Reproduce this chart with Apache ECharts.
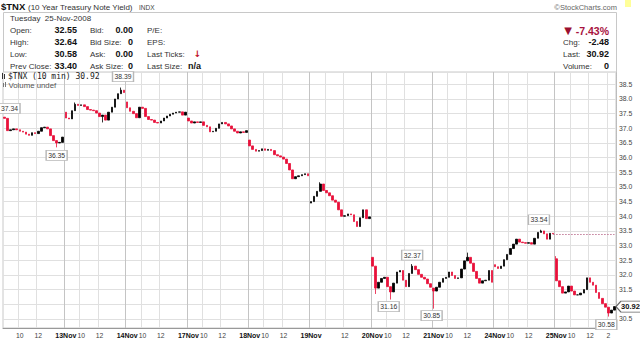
<!DOCTYPE html>
<html><head><meta charset="utf-8">
<script src="https://cdn.jsdelivr.net/npm/echarts@6/dist/echarts.min.js"></script>
<style>html,body{margin:0;padding:0;background:#fff}#c{width:640px;height:342px}</style>
</head><body><div id="c"></div>
<script>
// ---------- DATA ----------
const days = ['12Nov','13Nov','14Nov','17Nov','18Nov','19Nov','20Nov','21Nov','24Nov','25Nov'];
const barTimes = ['08:20','08:40','09:00','09:20','09:40','10:00','10:20','10:40','11:00','11:20',
                  '11:40','12:00','12:20','12:40','13:00','13:20','13:40','14:00','14:20','14:40'];
const dayOpens = [37.38, 37.55, 37.90, 37.35, 36.60, 34.45, 32.60, 31.55, 32.35, 32.55];
const close12Nov = [37.34,36.92,36.95,36.98,36.95,36.90,36.87,36.80,36.76,36.85,36.82,36.90,37.02,37.04,36.98,36.75,36.58,36.50,36.52,36.70];
const close13Nov = [37.35,37.32,37.60,37.82,37.78,37.80,37.74,37.64,37.62,37.60,37.52,37.40,37.45,37.28,37.55,37.72,38.00,38.18,38.30,38.22];
const close14Nov = [37.70,37.58,37.50,37.36,37.72,37.68,37.40,37.30,37.28,37.20,37.18,37.25,37.35,37.42,37.48,37.52,37.55,37.56,37.45,37.55];
const close17Nov = [37.25,37.18,37.22,37.20,37.22,37.10,37.05,36.88,36.90,37.00,37.15,37.20,37.15,37.08,36.98,36.90,36.84,36.88,36.86,36.92];
const close18Nov = [36.40,36.28,36.22,36.24,36.30,36.25,36.28,36.24,36.10,36.06,36.02,35.95,35.80,35.58,35.28,35.35,35.38,35.42,35.45,35.38];
const close19Nov = [34.50,34.68,34.85,35.10,34.88,34.80,34.70,34.55,34.48,34.22,34.00,34.02,34.08,34.05,33.82,33.65,33.95,34.22,33.92,33.98];
const close20Nov = [32.30,31.55,31.75,31.88,31.92,31.60,31.42,31.72,32.10,32.15,31.82,31.60,32.05,32.30,32.18,32.02,31.92,31.86,31.70,31.58];
const close21Nov = [31.45,31.58,31.75,31.88,31.92,32.10,31.98,31.88,31.90,32.20,32.48,32.60,32.40,32.12,31.88,31.72,31.80,31.82,32.15,31.75];
const close24Nov = [32.28,32.22,32.30,32.52,32.70,32.90,33.05,33.22,33.12,33.10,33.08,33.10,33.05,33.25,33.45,33.50,33.40,33.22,33.42,33.40];
const close25Nov = [31.80,31.60,31.38,31.42,31.62,31.45,31.32,31.32,31.38,31.50,31.90,31.75,31.65,31.40,31.20,31.02,30.90,30.70,30.80,30.92];
// [dayIndex, barIndex, value]
const highSpikes = [[1,3,37.88],[1,18,38.39],[5,3,35.16],[6,13,32.37],[7,11,32.76],[8,15,33.54],[9,0,32.64]];
const lowSpikes  = [[0,17,36.35],[1,12,37.20],[6,1,31.35],[6,6,31.16],[7,0,30.85],[9,17,30.58]];
// annotated values [dayIndex, barIndex, value]
const annotations = [[0,0,37.34],[1,18,38.39],[0,17,36.35],[6,13,32.37],[6,6,31.16],[7,0,30.85],[8,15,33.54],[9,17,30.58]];
const prevClose = 33.40;
const lastValue = 30.92;
const yTickLabels = ['30.5','31.5','32.0','32.5','33.0','33.5','34.0','34.5','35.0','35.5','36.0','36.5','37.0','37.5','38.0','38.5'];

// ---------- BUILD ----------
const dayCloses = [close12Nov,close13Nov,close14Nov,close17Nov,close18Nov,close19Nov,close20Nov,close21Nov,close24Nov,close25Nov];
const N = barTimes.length;
const cats = [];
days.forEach(d => barTimes.forEach(t => cats.push(d + ' ' + t)));
const ohlc = [];
let prev = null;
dayCloses.forEach((arr, d) => arr.forEach((c, i) => {
  const o = i === 0 ? dayOpens[d] : prev;
  ohlc.push([o, c, Math.min(o, c), Math.max(o, c)]);
  prev = c;
}));
highSpikes.forEach(([d, i, v]) => { const k = d * N + i; ohlc[k][3] = Math.max(ohlc[k][3], v); });
lowSpikes.forEach(([d, i, v]) => { const k = d * N + i; ohlc[k][2] = Math.min(ohlc[k][2], v); });

// layout (pixel offsets of annotation boxes relative to their point)
const annOffsets = [[5,-10],[2,-11],[0,8],[0,-9],[-2,7],[-2,7],[-2,-10],[-2,8]];

const FONT = 'Liberation Sans, Arial, sans-serif';
const RED = '#e8103a';

const hourIdx = (i) => {
  const d = Math.floor(i / N), b = i % N;
  if (b === 5) return true;
  if (b === 11) return true;
  if (b === 17 && d === days.length - 1) return true;
  return false;
};

const chart = echarts.init(document.getElementById('c'), null, {renderer: 'svg', width: 640, height: 342});

function T(x, y, text, o) {
  o = o || {};
  return {type: 'text', x: x, y: y, silent: true, z: 100,
    style: {text: text, fill: o.fill || '#333', font: (o.weight || 'normal') + ' ' + (o.size || 8) + 'px ' + (o.family || FONT),
      textAlign: o.align || 'left', textVerticalAlign: 'middle'}};
}

const graphics = [
  {type: 'rect', shape: {x: 3.5, y: 12.5, width: 613, height: 60}, style: {fill: 'none', stroke: '#c8c8c8', lineWidth: 1}, silent: true},
  T(1, 6, '$TNX', {weight: 'bold', size: 9.5, fill: '#111'}),
  T(28, 7, '(10 Year Treasury Note Yield)', {size: 8, fill: '#333'}),
  T(139, 7.5, 'INDX', {size: 6.5, fill: '#444'}),
  T(617, 7, '©StockCharts.com', {size: 7.5, fill: '#666', align: 'right'}),
  {type: 'rect', shape: {x: 625, y: 0, width: 6, height: 7}, style: {fill: '#ffff99'}, silent: true},
  T(10, 18, 'Tuesday  25-Nov-2008', {size: 8}),
  T(10, 30, 'Open:'), T(77, 30, '32.55', {weight: 'bold', size: 9, fill: '#111', align: 'right'}),
  T(10, 42, 'High:'), T(77, 42, '32.64', {weight: 'bold', size: 9, fill: '#111', align: 'right'}),
  T(10, 54, 'Low:'), T(77, 54, '30.58', {weight: 'bold', size: 9, fill: '#111', align: 'right'}),
  T(10, 66, 'Prev Close:'), T(77, 66, '33.40', {weight: 'bold', size: 9, fill: '#111', align: 'right'}),
  T(90, 30, 'Bid:'), T(133, 30, '0.00', {weight: 'bold', size: 9, fill: '#111', align: 'right'}),
  T(90, 42, 'Bid Size:'), T(133, 42, '0', {weight: 'bold', size: 9, fill: '#111', align: 'right'}),
  T(90, 54, 'Ask:'), T(133, 54, '0.00', {weight: 'bold', size: 9, fill: '#111', align: 'right'}),
  T(90, 66, 'Ask Size:'), T(133, 66, '0', {weight: 'bold', size: 9, fill: '#111', align: 'right'}),
  T(147, 30, 'P/E:'), T(147, 42, 'EPS:'), T(147, 54, 'Last Ticks:'),
  T(197.5, 54, '↓', {weight: 'bold', size: 9, fill: '#c0102a', align: 'center', family: 'DejaVu Sans'}),
  T(147, 66, 'Last Size:'), T(188, 66, 'n/a', {weight: 'bold', size: 9, fill: '#111'}),
  T(568, 30.5, '▼', {size: 10, fill: '#9b0f30', align: 'center', family: 'DejaVu Sans'}),
  T(609, 30.5, '-7.43%', {weight: 'bold', size: 10.5, fill: '#a8123e', align: 'right'}),
  T(563, 42, 'Chg:'), T(609, 42, '-2.48', {weight: 'bold', size: 9, fill: '#111', align: 'right'}),
  T(563, 54, 'Last:'), T(609, 54, '30.92', {weight: 'bold', size: 9, fill: '#111', align: 'right'}),
  T(563, 66, 'Volume:'), T(609, 66, '0', {weight: 'bold', size: 9, fill: '#111', align: 'right'}),
  // legend icons
  {type: 'rect', shape: {x: 2, y: 73, width: 1, height: 6}, style: {fill: '#333'}, silent: true, z: 100},
  {type: 'rect', shape: {x: 4, y: 74, width: 1, height: 5}, style: {fill: '#333'}, silent: true, z: 100},
  T(8, 76.5, '$TNX (10 min) 30.92', {size: 8, fill: '#222', family: 'DejaVu Sans Mono'}),
  {type: 'rect', shape: {x: 3, y: 83, width: 1, height: 4}, style: {fill: '#777'}, silent: true, z: 100},
  {type: 'rect', shape: {x: 5, y: 82, width: 1, height: 5}, style: {fill: '#777'}, silent: true, z: 100},
  T(8.5, 85, 'Volume undef', {size: 7.8, fill: '#555'})
];

const markData = annotations.map(([d, i, v], j) => ({
  coord: [cats[d * N + i], v], value: v,
  symbol: 'rect', symbolSize: [21, 10], symbolOffset: annOffsets[j],
  itemStyle: {color: '#fff', borderColor: '#b8b8b8', borderWidth: 1},
  label: {show: true, position: 'inside', formatter: v.toFixed(2), fontSize: 6.8, color: '#333', fontFamily: FONT}
}));
markData.push({
  coord: [cats[cats.length - 1], lastValue], value: lastValue,
  symbol: 'path://M0,5L5,0L25,0L25,10L5,10Z', symbolSize: [25, 11], symbolOffset: [14, 0],
  itemStyle: {color: '#fff', borderColor: '#666', borderWidth: 1},
  label: {show: true, position: 'inside', offset: [2, 0], formatter: lastValue.toFixed(2), fontSize: 7.5, fontWeight: 'bold', color: '#111', fontFamily: FONT}
});

const option = {
  animation: false,
  backgroundColor: '#fff',
  graphic: graphics,
  grid: {left: 3, right: 24, top: 72, bottom: 14, show: true, borderColor: '#c8c8c8', borderWidth: 1, backgroundColor: '#fff'},
  xAxis: [{
    type: 'category', data: cats, boundaryGap: true,
    axisLine: {show: true, lineStyle: {color: '#999'}},
    axisTick: {show: false},
    axisLabel: {
      interval: (i) => {
        const d = Math.floor(i / N), b = i % N;
        if (b === 0) return d > 0;
        if (b === 5) return d !== 5;
        return hourIdx(i);
      },
      formatter: (val, i) => {
        const b = i % N;
        if (b === 0) return '{d|' + days[Math.floor(i / N)] + '}';
        return b === 5 ? '10' : (b === 11 ? '12' : '2');
      },
      rich: {d: {fontWeight: 'bold', fontSize: 7, color: '#111', fontFamily: FONT}},
      fontSize: 6.8, color: '#444', fontFamily: FONT, margin: 4
    },
    splitLine: {show: true, interval: (i) => hourIdx(i), lineStyle: {color: '#e0e0e0', width: 1}}
  }, {
    type: 'category', data: cats, boundaryGap: true, position: 'bottom',
    axisLine: {show: false}, axisTick: {show: false}, axisLabel: {show: false},
    splitLine: {show: true, interval: (i) => i % N === 0 && i > 0, lineStyle: {color: '#c4c4c4', width: 1}}
  }],
  yAxis: {
    type: 'value', position: 'right', scale: true,
    min: 30.19, max: 38.92, splitNumber: 17, minInterval: 0.5, maxInterval: 0.5,
    axisLine: {show: true, lineStyle: {color: '#bbb', type: 'dotted'}},
    axisTick: {show: false},
    axisLabel: {showMinLabel: false, showMaxLabel: false, fontSize: 6.8, color: '#444', fontFamily: FONT, margin: 3,
      formatter: (v) => { const s = v.toFixed(1); return yTickLabels.indexOf(s) >= 0 ? s : ''; }},
    splitLine: {show: true, lineStyle: {color: '#e0e0e0', width: 1}}
  },
  series: [{
    type: 'candlestick', xAxisIndex: 0, data: ohlc, barWidth: 2.1, clip: false,
    itemStyle: {color: '#000', color0: RED, borderColor: '#000', borderColor0: RED, borderWidth: 0.8},
    markPoint: {symbolKeepAspect: false, data: markData, silent: true},
    markLine: {
      silent: true, symbol: 'none', label: {show: false},
      lineStyle: {color: '#c07896', type: [1.5, 1.5], width: 1},
      data: [[{coord: [cats[8 * N + N - 1], prevClose]}, {coord: [cats[cats.length - 1], prevClose]}]]
    }
  }]
};
chart.setOption(option);
</script>
</body></html>
